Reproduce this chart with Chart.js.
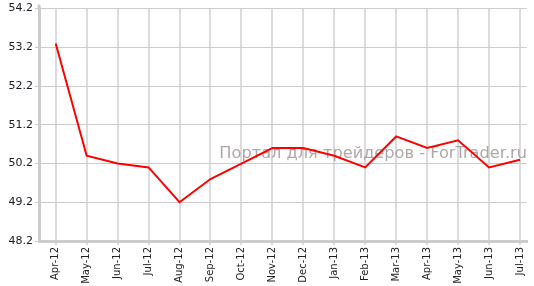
<!DOCTYPE html>
<html>
<head>
<meta charset="utf-8">
<script src="https://cdn.jsdelivr.net/npm/chart.js@4/dist/chart.umd.min.js"></script>
<style>
html,body{margin:0;padding:0;background:#fff;}
#wrap{width:534px;height:286px;position:relative;}
</style>
</head>
<body>
<div id="wrap"><canvas id="c" width="534" height="286"></canvas></div>
<script>
const categories = ["Apr-12","May-12","Jun-12","Jul-12","Aug-12","Sep-12","Oct-12","Nov-12","Dec-12","Jan-13","Feb-13","Mar-13","Apr-13","May-13","Jun-13","Jul-13"];
const values = [53.3,50.4,50.2,50.1,49.2,49.8,50.2,50.6,50.6,50.4,50.1,50.9,50.6,50.8,50.1,50.3];
const yTicks = [48.2,49.2,50.2,51.2,52.2,53.2,54.2];
const watermark = "Портал для трейдеров - ForTrader.ru";

const points = values.map((v,i)=>({x:i,y:v}));

const watermarkPlugin = {
  id:'wm',
  beforeDatasetsDraw(chart){
    const ctx = chart.ctx;
    ctx.save();
    ctx.font = '16.2px "DejaVu Sans", Verdana, sans-serif';
    ctx.fillStyle = 'rgba(160,152,152,0.85)';
    ctx.textAlign = 'right';
    ctx.textBaseline = 'alphabetic';
    ctx.fillText(watermark, 527, 158);
    ctx.restore();
  },
  afterDraw(chart){
    const ctx = chart.ctx, a = chart.chartArea;
    ctx.save();
    ctx.strokeStyle = '#cccccc';
    ctx.lineWidth = 3;
    ctx.beginPath();
    ctx.moveTo(a.left, a.top + 1);
    ctx.lineTo(a.left, a.top - 4);
    ctx.stroke();
    ctx.restore();
  }
};

new Chart(document.getElementById('c'), {
  type:'line',
  data:{datasets:[{data:points, borderColor:'#ff0000', borderWidth:2, pointRadius:0, tension:0, fill:false}]},
  options:{
    responsive:false, animation:false,
    layout:{padding:{top:8,right:0,left:0,bottom:0}},
    plugins:{legend:{display:false}, tooltip:{enabled:false}},
    scales:{
      x:{
        type:'linear', min:-0.54, max:15.22,
        afterBuildTicks(s){ s.ticks = categories.map((c,i)=>({value:i})); },
        afterFit(s){ s.height = 45; },
        grid:{color:'#dcdcdc', lineWidth:2, tickLength:4, drawTicks:true},
        border:{color:'#cccccc', width:3},
        ticks:{
          autoSkip:false, maxRotation:90, minRotation:90, padding:2,
          color:'#222', font:{family:'"DejaVu Sans", Verdana, sans-serif', size:10},
          callback:(v)=>categories[v]
        }
      },
      y:{
        min:48.2, max:54.2,
        afterBuildTicks(s){ s.ticks = yTicks.map(v=>({value:v})); },
        afterFit(s){ s.width = 39; },
        grid:{color:'#cccccc', lineWidth:1, tickLength:4, drawTicks:true},
        border:{color:'#cccccc', width:3},
        ticks:{
          padding:2, color:'#1a1a22',
          font:{family:'"DejaVu Sans", Verdana, sans-serif', size:11},
          callback:(v)=>v.toFixed(1)
        }
      }
    }
  },
  plugins:[watermarkPlugin]
});
</script>
</body>
</html>
